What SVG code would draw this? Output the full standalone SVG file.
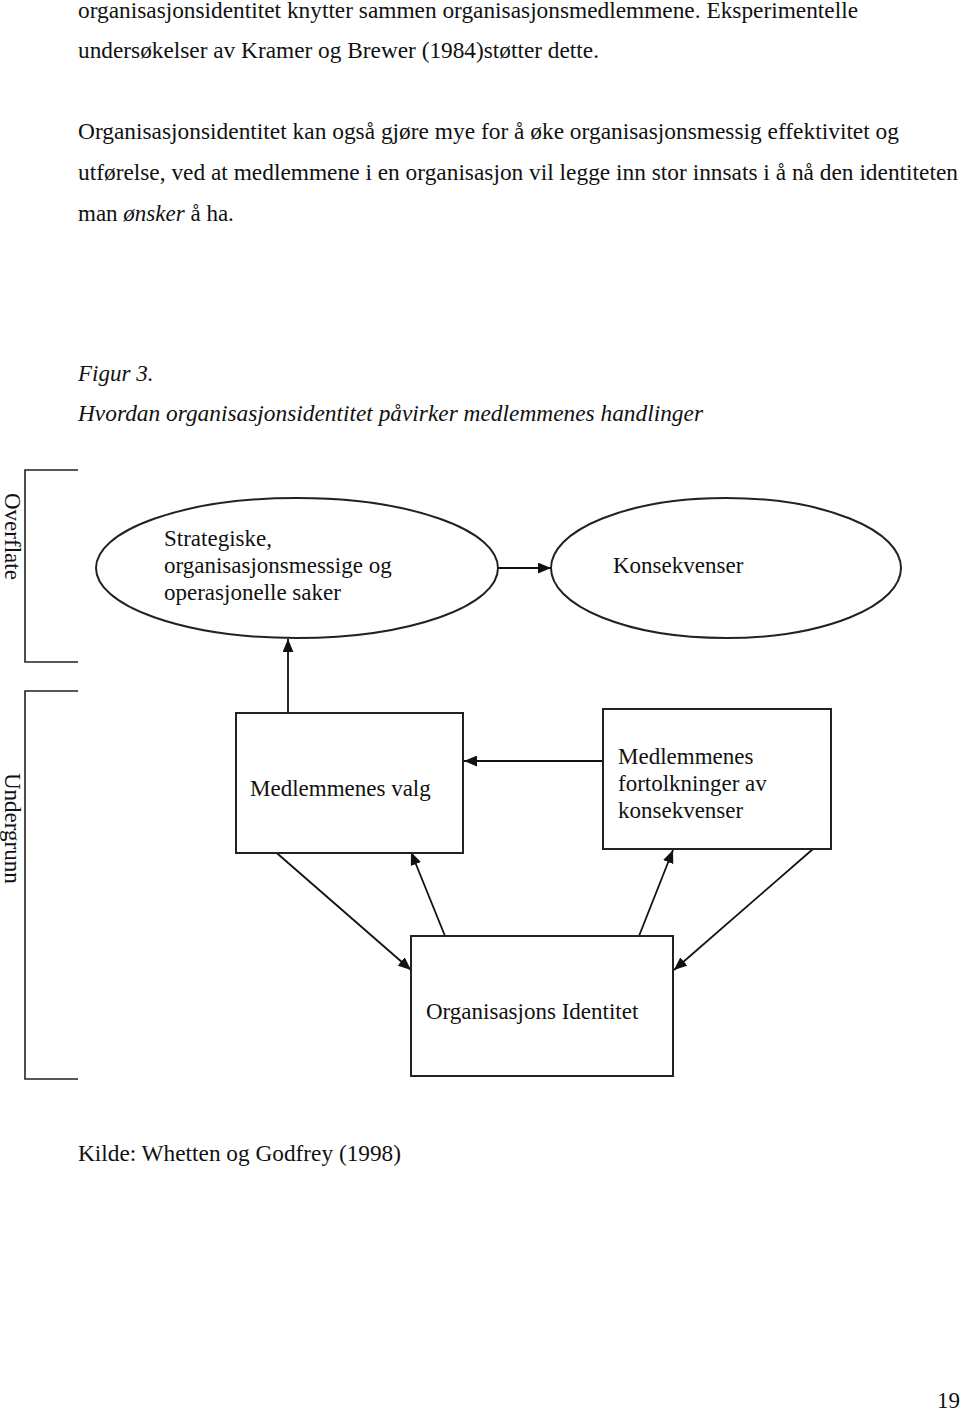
<svg xmlns="http://www.w3.org/2000/svg" width="960" height="1412" viewBox="0 0 960 1412">
<defs>
<style>
text{font-family:"Liberation Serif","Times New Roman",serif;font-size:23px;fill:#111}
.it{font-style:italic}
.node{fill:#fff;stroke:#222;stroke-width:2}
.conn{stroke:#111;stroke-width:1.8;fill:none;marker-end:url(#ah)}
.br{stroke:#222;stroke-width:1.6;fill:none}
</style>
<marker id="ah" viewBox="0 0 12 10" refX="12" refY="5" markerWidth="13" markerHeight="11" markerUnits="userSpaceOnUse" orient="auto">
<path d="M0,0 L12,5 L0,10 Z" fill="#111"/>
</marker>
</defs>
<rect width="960" height="1412" fill="#fff"/>

<g id="page-text">
<text x="78" y="18" textLength="780" lengthAdjust="spacingAndGlyphs">organisasjonsidentitet knytter sammen organisasjonsmedlemmene. Eksperimentelle</text>
<text x="78" y="58" textLength="521" lengthAdjust="spacingAndGlyphs">undersøkelser av Kramer og Brewer (1984)støtter dette.</text>
<text x="78" y="139" textLength="821" lengthAdjust="spacingAndGlyphs">Organisasjonsidentitet kan også gjøre mye for å øke organisasjonsmessig effektivitet og</text>
<text x="78" y="180" textLength="880" lengthAdjust="spacingAndGlyphs">utførelse, ved at medlemmene i en organisasjon vil legge inn stor innsats i å nå den identiteten</text>
<text x="78" y="221">man <tspan class="it">ønsker</tspan> å ha.</text>
<text x="78" y="381" class="it">Figur 3.</text>
<text x="78" y="421" class="it" textLength="625" lengthAdjust="spacingAndGlyphs">Hvordan organisasjonsidentitet påvirker medlemmenes handlinger</text>
<text x="78" y="1161" textLength="323" lengthAdjust="spacingAndGlyphs">Kilde: Whetten og Godfrey (1998)</text>
<text x="937" y="1408">19</text>
</g>

<g id="bracket-overflate">
<path class="br" d="M78,470 H25 V662 H78"/>
<text transform="translate(5,493) rotate(90)">Overflate</text>
</g>
<g id="bracket-undergrunn">
<path class="br" d="M78,691 H25 V1079 H78"/>
<text transform="translate(5,773) rotate(90)">Undergrunn</text>
</g>

<g id="connectors">
<line class="conn" x1="498" y1="568" x2="551" y2="568"/>
<line class="conn" x1="288" y1="712" x2="288" y2="639"/>
<line class="conn" x1="603" y1="761" x2="464" y2="761"/>
<line class="conn" x1="271" y1="848" x2="411" y2="970"/>
<line class="conn" x1="445" y1="936" x2="411" y2="852"/>
<line class="conn" x1="639" y1="936" x2="673" y2="850"/>
<line class="conn" x1="813" y1="849" x2="674" y2="970"/>
</g>

<g id="node-strategiske">
<ellipse class="node" cx="297" cy="568" rx="201" ry="70"/>
<text x="164" y="546">Strategiske,</text>
<text x="164" y="573">organisasjonsmessige og</text>
<text x="164" y="600">operasjonelle saker</text>
</g>

<g id="node-konsekvenser">
<ellipse class="node" cx="726" cy="568" rx="175" ry="70"/>
<text x="613" y="573">Konsekvenser</text>
</g>

<g id="node-valg">
<rect class="node" x="236" y="713" width="227" height="140"/>
<text x="250" y="796">Medlemmenes valg</text>
</g>

<g id="node-fortolkninger">
<rect class="node" x="603" y="709" width="228" height="140"/>
<text x="618" y="764">Medlemmenes</text>
<text x="618" y="791">fortolkninger av</text>
<text x="618" y="818">konsekvenser</text>
</g>

<g id="node-identitet">
<rect class="node" x="411" y="936" width="262" height="140"/>
<text x="426" y="1019">Organisasjons Identitet</text>
</g>
</svg>
